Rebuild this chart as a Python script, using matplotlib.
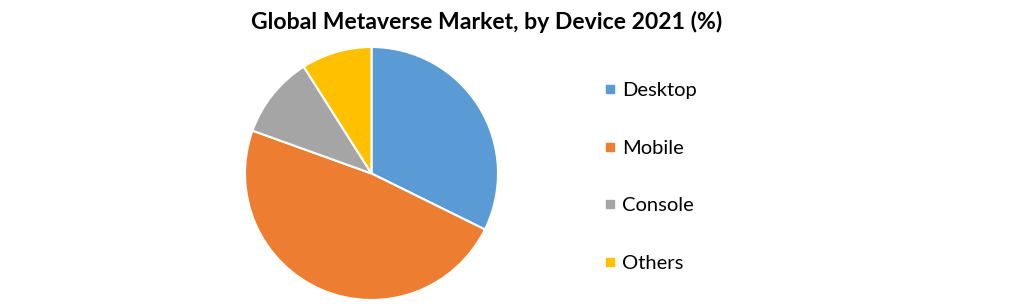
import matplotlib.pyplot as plt
from matplotlib.lines import Line2D

labels = ["Desktop", "Mobile", "Console", "Others"]
values = [32.3, 48.2, 10.5, 9.0]
colors = ["#5B9BD5", "#ED7D31", "#A5A5A5", "#FFC000"]

plt.rcParams['font.family'] = ['Lato', 'DejaVu Sans']

W, H = 1021, 304
fig = plt.figure(figsize=(W / 100, H / 100), dpi=100)

cx, cy, r = 371.5, 173.5, 126.5
ax = fig.add_axes([(cx - r) / W, (H - cy - r) / H, 2 * r / W, 2 * r / H])
ax.pie(values, colors=colors, startangle=90, counterclock=False,
       wedgeprops=dict(edgecolor="white", linewidth=1.5))
ax.set_xlim(-1, 1)
ax.set_ylim(-1, 1)
ax.set_aspect("equal")
ax.axis("off")

fig.text(487 / W, 1 - 22 / H, "Global Metaverse Market, by Device 2021 (%)",
         ha="center", va="center", fontsize=16.6, fontweight="bold")

handles = [Line2D([], [], marker="s", linestyle="none", markersize=6,
                  markerfacecolor=c, markeredgecolor=c) for c in colors]
fig.legend(handles, labels, loc="center left", bbox_to_anchor=(594 / W, 1 - 177 / H),
           frameon=False, fontsize=14.5, labelspacing=2.0, handlelength=0.8,
           handletextpad=0.2, borderaxespad=0)

fig.savefig("out.png", dpi=100)
